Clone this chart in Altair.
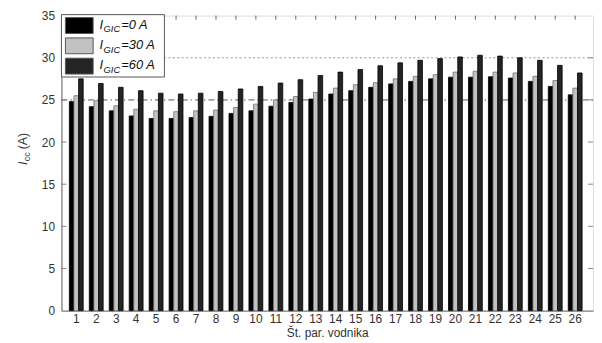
import altair as alt
import pandas as pd

categories = list(range(1, 27))
series_names = ["0 A", "30 A", "60 A"]
i_0 = [24.8, 24.2, 23.7, 23.1, 22.8, 22.8, 22.9, 23.05, 23.4, 23.7, 24.25, 24.7, 25.1,
       25.7, 26.1, 26.5, 26.9, 27.2, 27.5, 27.7, 27.7, 27.75, 27.6, 27.2, 26.6, 25.6]
i_30 = [25.5, 24.9, 24.3, 23.9, 23.7, 23.6, 23.7, 23.8, 24.1, 24.5, 25.0, 25.4, 25.9,
        26.4, 26.8, 27.05, 27.5, 27.8, 28.0, 28.3, 28.4, 28.3, 28.2, 27.8, 27.3, 26.4]
i_60 = [27.5, 26.95, 26.5, 26.1, 25.8, 25.7, 25.8, 26.0, 26.3, 26.6, 27.0, 27.4, 27.9,
        28.3, 28.6, 29.05, 29.4, 29.7, 29.9, 30.1, 30.3, 30.2, 30.0, 29.7, 29.1, 28.2]
y_ticks = [0, 5, 10, 15, 20, 25, 30, 35]
ref_dashdot = [25]
ref_dotted = [30]
x_title = "Št. par. vodnika"
y_title_main = "I"
y_title_sub = "cc"
y_title_unit = "(A)"
legend_main = "I"
legend_sub = "GIC"
legend_labels = ["=0 A", "=30 A", "=60 A"]

rows = []
for s, vals in zip(series_names, [i_0, i_30, i_60]):
    for c, v in zip(categories, vals):
        rows.append({"cat": c, "series": s, "val": v})
df = pd.DataFrame(rows)

W, H = 537, 298
FONT = "Liberation Sans"
fills = ["#000000", "#c2c2c2", "#242424"]
strokes = ["#000000", "#707070", "#000000"]

xscale = alt.Scale(paddingInner=0.3056, paddingOuter=0.471, align=0.42, round=False)
yscale = alt.Scale(domain=[0, 35], nice=False, zero=True)

x_axis = alt.Axis(title=x_title, labelAngle=0, ticks=False, labelPadding=3,
                  labelFontSize=12, labelColor="#333", labelFont=FONT,
                  titleFontSize=12, titleFontWeight="normal", titleColor="#333",
                  titleFont=FONT, titleBaseline="alphabetic", titleY=26,
                  domainColor="#666", grid=False)
y_axis = alt.Axis(title=None, values=y_ticks, ticks=False, labelPadding=7,
                  labelFontSize=12, labelColor="#333", labelFont=FONT,
                  domainColor="#666", grid=False)

def xenc(field):
    return alt.X(field, scale=xscale, axis=x_axis)

def yenc(field):
    return alt.Y(field, scale=yscale, axis=y_axis)

dummy = pd.DataFrame({"d": [0]})

line25 = alt.Chart(pd.DataFrame({"v": ref_dashdot})).mark_rule(
    color="#444", strokeWidth=0.9, strokeDash=[6, 3, 1.5, 3]
).encode(y=yenc("v:Q"), x=alt.value(0), x2=alt.value(W))

line30 = alt.Chart(pd.DataFrame({"v": ref_dotted})).mark_rule(
    color="#999", strokeWidth=1, strokeDash=[2, 2.5]
).encode(y=yenc("v:Q"), x=alt.value(0), x2=alt.value(W))

bars = alt.Chart(df).mark_bar(strokeWidth=0.8).encode(
    x=xenc("cat:O"),
    xOffset=alt.XOffset("series:N", sort=series_names,
                        scale=alt.Scale(domain=series_names, paddingInner=0, paddingOuter=0)),
    y=yenc("val:Q"),
    fill=alt.Fill("series:N", scale=alt.Scale(domain=series_names, range=fills), legend=None),
    stroke=alt.Stroke("series:N", scale=alt.Scale(domain=series_names, range=strokes), legend=None),
)

ytick_df = pd.DataFrame({"v": y_ticks[1:-1]})
lticks = alt.Chart(ytick_df).mark_rule(color="#888", strokeWidth=1).encode(
    y=yenc("v:Q"), x=alt.value(0), x2=alt.value(5))
rticks = alt.Chart(ytick_df).mark_rule(color="#888", strokeWidth=1).encode(
    y=yenc("v:Q"), x=alt.value(W - 5), x2=alt.value(W))

cat_df = pd.DataFrame({"cat": categories})
tticks = alt.Chart(cat_df).mark_rule(color="#666", strokeWidth=1).encode(
    x=xenc("cat:O"), y=alt.value(0), y2=alt.value(4))

layers = [line25, line30, bars, lticks, rticks, tticks]

# legend box
layers.append(alt.Chart(dummy).mark_rect(fill="white", stroke="#555", strokeWidth=1).encode(
    x=alt.value(0), x2=alt.value(104), y=alt.value(-1), y2=alt.value(62)))
row_tops = [2, 22.5, 43]
for i, lab in enumerate(legend_labels):
    top = row_tops[i]
    layers.append(alt.Chart(dummy).mark_rect(fill=fills[i], stroke="#555", strokeWidth=1).encode(
        x=alt.value(4), x2=alt.value(32), y=alt.value(top), y2=alt.value(top + 16)))
    base = top + 11
    layers.append(alt.Chart(dummy).mark_text(
        text=legend_main, font=FONT, fontSize=13, fontStyle="italic", align="left",
        baseline="alphabetic", color="#111").encode(x=alt.value(38.5), y=alt.value(base)))
    layers.append(alt.Chart(dummy).mark_text(
        text=legend_sub, font=FONT, fontSize=9.5, fontStyle="italic", align="left",
        baseline="alphabetic", color="#111").encode(x=alt.value(42.5), y=alt.value(base + 4)))
    layers.append(alt.Chart(dummy).mark_text(
        text=lab, font=FONT, fontSize=13, fontStyle="italic", align="left",
        baseline="alphabetic", color="#111").encode(x=alt.value(60.5), y=alt.value(base)))

# y title (rotated, with subscript)
yx = -35
yy = 151
layers.append(alt.Chart(dummy).mark_text(
    text=y_title_main, font=FONT, fontSize=12.5, fontStyle="italic", angle=270, align="left",
    baseline="alphabetic", color="#333").encode(x=alt.value(yx), y=alt.value(yy)))
layers.append(alt.Chart(dummy).mark_text(
    text=y_title_sub, font=FONT, fontSize=9, angle=270, align="left",
    baseline="alphabetic", color="#333").encode(x=alt.value(yx + 3), y=alt.value(yy - 4)))
layers.append(alt.Chart(dummy).mark_text(
    text=y_title_unit, font=FONT, fontSize=12.5, angle=270, align="left",
    baseline="alphabetic", color="#333").encode(x=alt.value(yx), y=alt.value(yy - 16)))

chart = alt.layer(*layers).properties(
    width=W, height=H,
    autosize=alt.AutoSizeParams(type="none"),
    padding={"left": 54, "top": 6, "right": 1, "bottom": 31},
).configure_view(stroke="#666", strokeWidth=1).configure(font=FONT)

chart.save("out.html", embed_options={"renderer": "svg", "actions": False})
